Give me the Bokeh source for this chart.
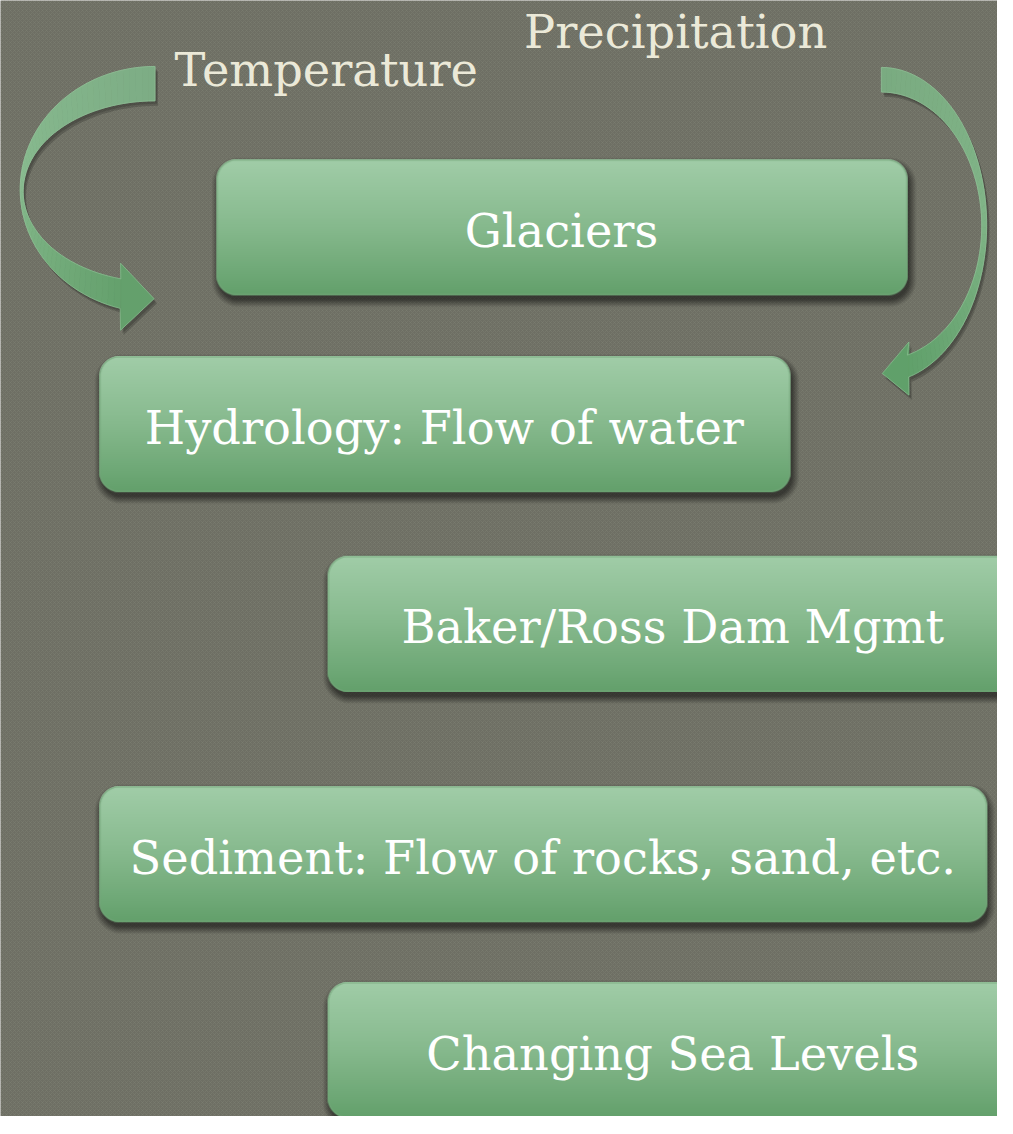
import numpy as np
from bokeh.plotting import figure
from bokeh.models import Range1d, ColumnDataSource
from bokeh.core.properties import value
from bokeh.embed import file_html
from bokeh.resources import INLINE

# ---------------- content ----------------
box_labels = ["Glaciers", "Hydrology: Flow of water", "Baker/Ross Dam Mgmt",
              "Sediment: Flow of rocks, sand, etc.", "Changing Sea Levels"]
driver_labels = ["Temperature", "Precipitation"]

# ---------------- layout (reference pixel units, y downwards) ----------------
W_REF, H_REF = 1013, 1134
box_left = [219, 100, 332, 100, 332]
box_top = [162, 362, 565, 799, 998]
box_w = [702, 702, 702, 902, 702]
box_h = [138, 138, 138, 138, 138]
driver_x = [331, 686]
driver_y = [71, 32]

PW = 997
SCALE = PW / W_REF
PH = int(round(H_REF * SCALE))
FONT = "DejaVu Serif"
FS = 47

BG = "#6e6f64"


def rgb(h):
    return np.array([int(h[i:i + 2], 16) for i in (1, 3, 5)], float)


def yd(y):
    return H_REF - np.asarray(y, float)


def box_image(x0, y0, w, h, m=16, r=20):
    nx, ny = int(w + 2 * m), int(h + 2 * m)
    xs = x0 - m + np.arange(nx) + 0.5
    ys = y0 - m + np.arange(ny) + 0.5
    X, Y = np.meshgrid(xs, ys)
    cx, cy = x0 + w / 2, y0 + h / 2

    def sdf(px, py):
        qx = np.abs(px - cx) - (w / 2 - r)
        qy = np.abs(py - cy) - (h / 2 - r)
        out = np.hypot(np.maximum(qx, 0), np.maximum(qy, 0))
        ins = np.minimum(np.maximum(qx, qy), 0)
        return out + ins - r

    sd = sdf(X, Y)
    cov = np.clip(0.5 - sd, 0, 1)
    t = np.clip((Y - y0) / h, 0, 1)[..., None]
    top, mid, bot = rgb("#a1cda8"), rgb("#86b98d"), rgb("#63a06b")
    col = np.where(t < 0.5, top * (1 - 2 * t) + mid * (2 * t), mid * (2 - 2 * t) + bot * (2 * t - 1))
    ring = np.clip(1 - np.abs(sd + 1.0) / 1.2, 0, 1)[..., None] * 0.7
    col = col * (1 - ring) + rgb("#74a57a") * ring
    sds = sdf(X - 2, Y - 5)
    sh = 0.5 * np.clip(1 - (sds + 1) / 8, 0, 1)
    a = cov + (1 - cov) * sh
    out_rgb = col * (cov / np.maximum(a, 1e-6))[..., None]
    img = np.zeros((ny, nx), dtype=np.uint32)
    v = img.view(dtype=np.uint8).reshape((ny, nx, 4))
    v[..., 0:3] = np.clip(out_rgb, 0, 255).astype(np.uint8)
    v[..., 3] = np.clip(a * 255, 0, 255).astype(np.uint8)
    return img[::-1], x0 - m, H_REF - (y0 - m + ny), nx, ny


def ellipse(cx, cy, rx, ry, t0, t1, n):
    t = np.radians(np.linspace(t0, t1, n))
    return cx + rx * np.cos(t), cy - ry * np.sin(t)


def lerp_colors(keys, n):
    ks = [rgb(k) for k in keys]
    out = []
    for i in range(n):
        f = i / max(n - 1, 1) * (len(ks) - 1)
        j = min(int(f), len(ks) - 2)
        u = f - j
        c = ks[j] * (1 - u) + ks[j + 1] * u
        out.append("#%02x%02x%02x" % tuple(int(round(x)) for x in c))
    return out


p = figure(width=PW, height=PH, x_range=Range1d(0, W_REF), y_range=Range1d(0, H_REF),
           toolbar_location=None, output_backend="svg", min_border=0,
           x_axis_location=None, y_axis_location=None)
p.grid.visible = False
p.outline_line_color = None
p.background_fill_color = BG
p.border_fill_color = BG

# subtle texture
p.quad(left=[0], right=[W_REF], bottom=[0], top=[H_REF], fill_alpha=0, line_color=None,
       hatch_pattern="diagonal_cross", hatch_scale=4, hatch_color="#7f8173",
       hatch_alpha=0.45, hatch_weight=1)

# ---------------- curved arrows ----------------
arrows = [
    dict(outer=(157, 192, 137, 125), inner=(157, 194, 134, 92), t=(90, 255),
         head=[(122, 267), (156, 303), (122, 335)],
         colors=["#7dad85", "#88bb8f", "#64a06c"]),
    dict(outer=(895, 228, 107, 160), inner=(895, 229, 102, 136), t=(90, -75),
         head=[(923, 347), (896, 379), (923, 401)],
         colors=["#7aab81", "#80b487", "#60a06a"]),
]
N = 60
for a in arrows:
    ox, oy = ellipse(*a["outer"], a["t"][0], a["t"][1], N + 1)
    ix, iy = ellipse(*a["inner"], a["t"][0], a["t"][1], N + 1)
    hx = [h[0] for h in a["head"]]
    hy = [h[1] for h in a["head"]]
    fx = list(ox) + [hx[2], hx[1], hx[0]] + list(ix[::-1])
    fy = list(oy) + [hy[2], hy[1], hy[0]] + list(iy[::-1])
    for off, al in [((3, 5), 0.18), ((2, 3), 0.15)]:
        p.patch(np.array(fx) + off[0], yd(np.array(fy) + off[1]), fill_color="black",
                fill_alpha=al, line_color=None)
    cols = lerp_colors(a["colors"], N + 1)
    xs, ys, cs = [], [], []
    for i in range(N):
        xs.append([ox[i], ox[i + 1], ix[i + 1], ix[i]])
        ys.append(list(yd([oy[i], oy[i + 1], iy[i + 1], iy[i]])))
        cs.append(cols[i])
    xs.append(hx)
    ys.append(list(yd(hy)))
    cs.append(cols[-1])
    p.patches(xs, ys, fill_color=cs, line_color=cs, line_width=0.8)
    p.patch(fx, yd(fy), fill_alpha=0, line_color="#9ac79f", line_alpha=0.5, line_width=1)

# ---------------- boxes ----------------
for x0, y0, w, h in zip(box_left, box_top, box_w, box_h):
    img, ix0, iy0, nx, ny = box_image(x0, y0, w, h)
    p.image_rgba(image=[img], x=ix0, y=iy0, dw=nx, dh=ny)

src = ColumnDataSource(dict(
    x=[l + w / 2 for l, w in zip(box_left, box_w)],
    y=list(yd([t + 72 for t in box_top])),
    text=box_labels))
p.text(x="x", y="y", text="text", source=src, text_font=value(FONT),
       text_font_size=f"{FS * SCALE:.1f}px", text_color="white",
       text_align="center", text_baseline="middle")

p.text(x=driver_x, y=list(yd(driver_y)), text=driver_labels, text_font=value(FONT),
       text_font_size=f"{FS * SCALE:.1f}px", text_color="#ebe9d8",
       text_align="center", text_baseline="middle")

open("out.html", "w").write(file_html(p, INLINE))
